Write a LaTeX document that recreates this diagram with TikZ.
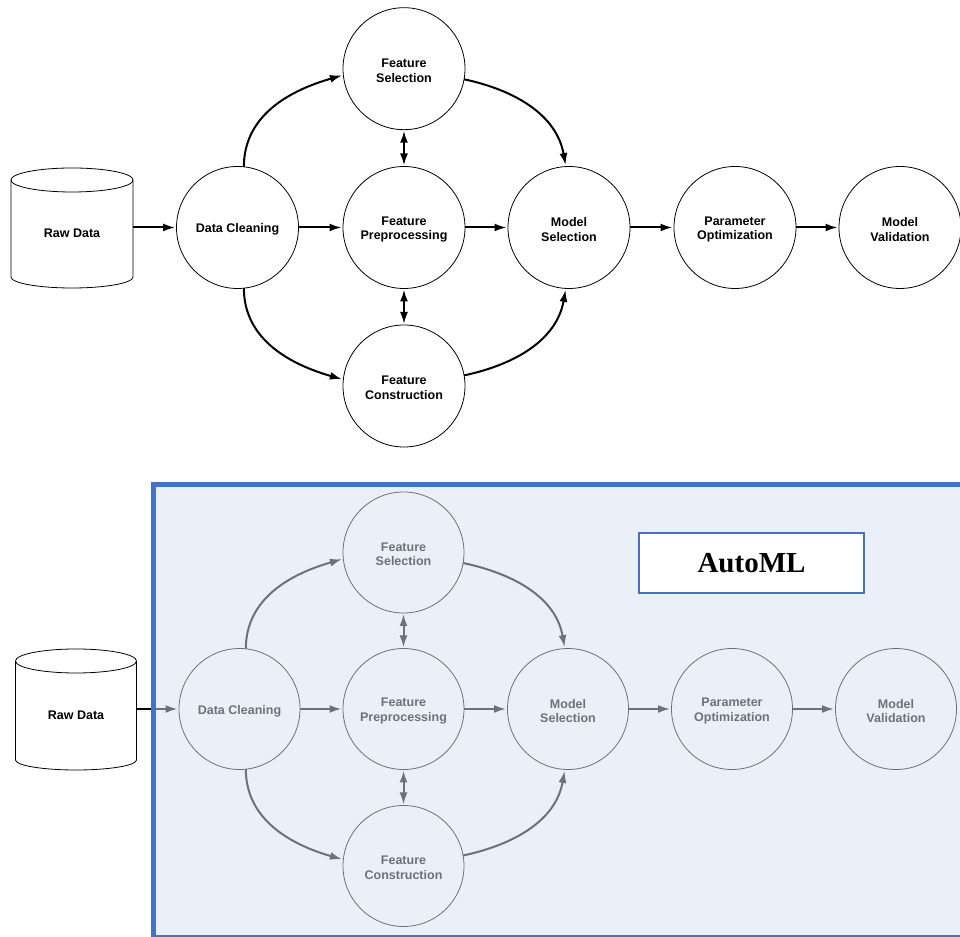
\documentclass[tikz,border=0pt]{standalone}
\usepackage{fontspec}
\setmainfont{Liberation Sans}
\newfontfamily\titlefont{Liberation Serif}
\usetikzlibrary{arrows.meta}
\definecolor{boxblue}{HTML}{4472C4}
\definecolor{boxfill}{HTML}{EBEFF8}
\definecolor{fadegray}{HTML}{6E7178}
\tikzset{
  stage/.style={circle, draw, line width=0.8pt, minimum size=122pt, inner sep=0pt, outer sep=0pt},
  stagesm/.style={stage, minimum size=121pt, draw=fadegray},
  stagetext/.style={align=center, inner sep=0pt, yshift=-2pt,
    font=\fontsize{12.5}{14.5}\selectfont\bfseries},
  flow/.style={line width=2pt, -{Latex[length=12pt,width=8pt]}, shorten >=1.5pt},
  twoway/.style={line width=2pt, {Latex[length=12pt,width=8pt]}-{Latex[length=12pt,width=8pt]},
    shorten >=1pt, shorten <=1pt},
  cyl/.style={line width=0.8pt, fill=white},
  rawtext/.style={font=\fontsize{12.5}{14.5}\selectfont\bfseries, inner sep=0pt},
}
\begin{document}
\begin{tikzpicture}[x=1pt, y=1pt]
\useasboundingbox (0,0) rectangle (960,936);

% ---------- plain pipeline ----------
\draw[cyl] (11,756) -- (11,659) arc[start angle=180, end angle=360, x radius=61pt, y radius=11pt] -- (133,756);
\draw[cyl] (72,756) ellipse[x radius=61pt, y radius=12pt];
\node[rawtext] (raw) at (72,703) {Raw Data};

\node[stage, label={[stagetext]center:{Data Cleaning}}] (dc) at (237.5,708.5) {};
\node[stage, label={[stagetext]center:{Feature\\Selection}}] (fs) at (404,867.3) {};
\node[stage, label={[stagetext]center:{Feature\\Preprocessing}}] (fp) at (404,708.5) {};
\node[stage, label={[stagetext]center:{Feature\\Construction}}] (fc) at (404,550) {};
\node[stage, label={[stagetext]center:{Model\\Selection}}] (ms) at (569,708.5) {};
\node[stage, label={[stagetext]center:{Parameter\\Optimization}}] (po) at (735,708.5) {};
\node[stage, label={[stagetext]center:{Model\\Validation}}] (mv) at (900,708.5) {};

\draw[flow] (133,708.5) -- (dc.west);
\draw[flow] (dc.east) -- (fp.west);
\draw[flow] (fp.east) -- (ms.west);
\draw[flow] (ms.east) -- (po.west);
\draw[flow] (po.east) -- (mv.west);
\draw[twoway] (fs.south) -- (fp.north);
\draw[twoway] (fp.south) -- (fc.north);
\draw[flow] (dc.84) to[out=90, in=196] (fs.186);
\draw[flow] (dc.-84) to[out=-90, in=164] (fc.174);
\draw[flow] (fs.-10) to[out=-12, in=100] (ms.93);
\draw[flow] (fc.10) to[out=12, in=-100] (ms.-93);

% ---------- AutoML pipeline ----------
\fill[boxfill] (153.5,451.5) rectangle (970,-1.5);

\begin{scope}[every label/.append style={text=fadegray}, draw=fadegray]
\node[stagesm, label={[stagetext]center:{Data Cleaning}}] (dc2) at (239.5,227) {};
\node[stagesm, label={[stagetext]center:{Feature\\Selection}}] (fs2) at (403.5,383.5) {};
\node[stagesm, label={[stagetext]center:{Feature\\Preprocessing}}] (fp2) at (403.5,227) {};
\node[stagesm, label={[stagetext]center:{Feature\\Construction}}] (fc2) at (403.5,70) {};
\node[stagesm, label={[stagetext]center:{Model\\Selection}}] (ms2) at (568,227) {};
\node[stagesm, label={[stagetext]center:{Parameter\\Optimization}}] (po2) at (732,227) {};
\node[stagesm, label={[stagetext]center:{Model\\Validation}}] (mv2) at (896,227) {};

\begin{scope}[fadegray]
\draw[flow] (136.5,227) -- (dc2.west);
\draw[flow] (dc2.east) -- (fp2.west);
\draw[flow] (fp2.east) -- (ms2.west);
\draw[flow] (ms2.east) -- (po2.west);
\draw[flow] (po2.east) -- (mv2.west);
\draw[twoway] (fs2.south) -- (fp2.north);
\draw[twoway] (fp2.south) -- (fc2.north);
\draw[flow] (dc2.84) to[out=90, in=196] (fs2.186);
\draw[flow] (dc2.-84) to[out=-90, in=164] (fc2.174);
\draw[flow] (fs2.-10) to[out=-12, in=100] (ms2.93);
\draw[flow] (fc2.10) to[out=12, in=-100] (ms2.-93);
\end{scope}
\end{scope}

\draw[boxblue, line width=5pt] (970,451.5) -- (153.5,451.5) -- (153.5,-1.5) -- (970,-1.5);

% input store outside the box
\draw[line width=2pt] (136.5,227) -- (151,227);
\draw[cyl] (15.5,275) -- (15.5,176) arc[start angle=180, end angle=360, x radius=60.5pt, y radius=10pt] -- (136.5,275);
\draw[cyl] (76,275) ellipse[x radius=60.5pt, y radius=12pt];
\node[rawtext] (raw2) at (76,221) {Raw Data};

\node[draw=boxblue, line width=2pt, fill=white, minimum width=225pt, minimum height=60pt,
  font=\titlefont\fontsize{29}{32}\selectfont\bfseries] (automl) at (751.5,373) {AutoML};
\end{tikzpicture}
\end{document}
